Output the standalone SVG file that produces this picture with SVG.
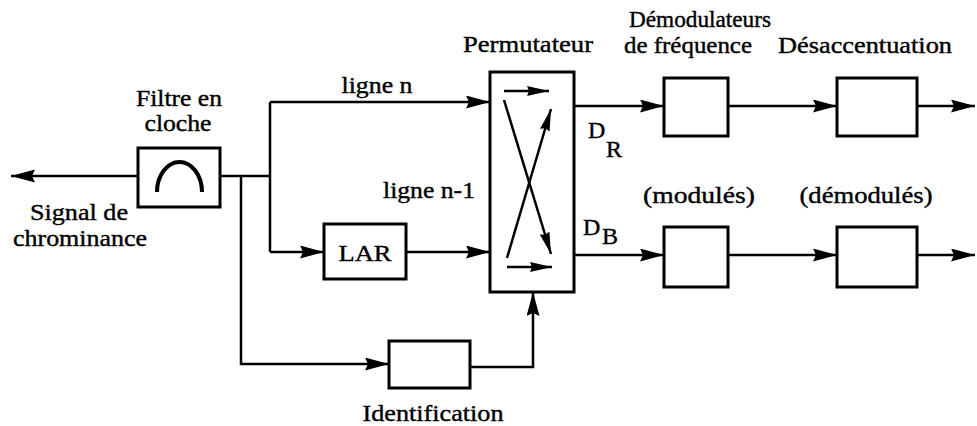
<svg xmlns="http://www.w3.org/2000/svg" width="977" height="426" viewBox="0 0 977 426">
<style>
.box{fill:none;stroke:#000;stroke-width:3}
.ln{fill:none;stroke:#000;stroke-width:2.5}
.t{font-family:"Liberation Serif","Times New Roman",serif;font-size:24px;fill:#000;stroke:#000;stroke-width:0.4}
</style>
<defs>
<marker id="ah" markerUnits="userSpaceOnUse" markerWidth="26" markerHeight="14" refX="24" refY="6.5" orient="auto">
<path d="M0,0 L24,6.5 L0,13 L3,6.5 z" fill="#000"/>
</marker>
<marker id="ahs" markerUnits="userSpaceOnUse" markerWidth="24" markerHeight="12" refX="22" refY="5" orient="auto">
<path d="M0,0 L22,5 L0,10 L2,5 z" fill="#000"/>
</marker>
</defs>
<rect width="977" height="426" fill="#fff"/>
<g id="connectors">
<line class="ln" x1="138" y1="176" x2="11" y2="176" marker-end="url(#ah)"/>
<polyline class="ln" points="220,176 270,176"/>
<polyline class="ln" points="270,102 270,252"/>
<line class="ln" x1="270" y1="102" x2="490" y2="102" marker-end="url(#ah)"/>
<line class="ln" x1="270" y1="252" x2="324" y2="252" marker-end="url(#ah)"/>
<line class="ln" x1="406" y1="252" x2="490" y2="252" marker-end="url(#ah)"/>
<polyline class="ln" points="241,176 241,364 389,364" marker-end="url(#ah)"/>
<polyline class="ln" points="470,367 533,367 533,292" marker-end="url(#ah)"/>
<line class="ln" x1="574" y1="106" x2="664" y2="106" marker-end="url(#ah)"/>
<line class="ln" x1="728" y1="106" x2="837" y2="106" marker-end="url(#ah)"/>
<line class="ln" x1="917" y1="106" x2="975" y2="106" marker-end="url(#ah)"/>
<line class="ln" x1="574" y1="255" x2="664" y2="255" marker-end="url(#ah)"/>
<line class="ln" x1="728" y1="255" x2="837" y2="255" marker-end="url(#ah)"/>
<line class="ln" x1="917" y1="255" x2="975" y2="255" marker-end="url(#ah)"/>
</g>
<g id="filtre">
<rect class="box" x="138" y="148" width="82" height="59"/>
<path d="M157,192 A22.5,30 0 0 1 202,192" fill="none" stroke="#000" stroke-width="4"/>
<text class="t" x="179" y="106" text-anchor="middle" textLength="86" lengthAdjust="spacingAndGlyphs">Filtre en</text>
<text class="t" x="178" y="131" text-anchor="middle" textLength="67" lengthAdjust="spacingAndGlyphs">cloche</text>
</g>
<g id="signal">
<text class="t" x="79" y="220" text-anchor="middle" textLength="98" lengthAdjust="spacingAndGlyphs">Signal de</text>
<text class="t" x="80" y="246" text-anchor="middle" textLength="134" lengthAdjust="spacingAndGlyphs">chrominance</text>
</g>
<g id="lignes">
<text class="t" x="377" y="93" text-anchor="middle" textLength="71" lengthAdjust="spacingAndGlyphs">ligne n</text>
<text class="t" x="429" y="198" text-anchor="middle" textLength="92" lengthAdjust="spacingAndGlyphs">ligne n-1</text>
</g>
<g id="lar">
<rect class="box" x="324" y="224" width="82" height="55"/>
<text class="t" x="365" y="261" text-anchor="middle" textLength="53" lengthAdjust="spacingAndGlyphs">LAR</text>
</g>
<g id="permutateur">
<rect class="box" x="490" y="72" width="84" height="220"/>
<text class="t" x="528" y="52" text-anchor="middle" textLength="130" lengthAdjust="spacingAndGlyphs">Permutateur</text>
<line class="ln" x1="504" y1="91" x2="549" y2="91" marker-end="url(#ahs)"/>
<line class="ln" x1="507" y1="267" x2="552" y2="267" marker-end="url(#ahs)"/>
<line class="ln" x1="504" y1="100" x2="551" y2="254" marker-end="url(#ahs)"/>
<line class="ln" x1="507" y1="258" x2="551" y2="109" marker-end="url(#ahs)"/>
</g>
<g id="identification">
<rect class="box" x="389" y="341" width="81" height="47"/>
<text class="t" x="433" y="421" text-anchor="middle" textLength="141" lengthAdjust="spacingAndGlyphs">Identification</text>
</g>
<g id="labels-d">
<text class="t" x="588" y="138">D</text>
<text class="t" x="606" y="157">R</text>
<text class="t" x="583" y="235">D</text>
<text class="t" x="602" y="244">B</text>
</g>
<g id="demod-r">
<rect class="box" x="664" y="78" width="64" height="58"/>
<text class="t" x="700" y="27" text-anchor="middle" textLength="142" lengthAdjust="spacingAndGlyphs">Démodulateurs</text>
<text class="t" x="688" y="53" text-anchor="middle" textLength="128" lengthAdjust="spacingAndGlyphs">de fréquence</text>
</g>
<g id="desacc-r">
<rect class="box" x="837" y="78" width="80" height="58"/>
<text class="t" x="865" y="53" text-anchor="middle" textLength="174" lengthAdjust="spacingAndGlyphs">Désaccentuation</text>
</g>
<g id="demod-b">
<rect class="box" x="664" y="227" width="64" height="60"/>
<text class="t" x="699" y="203" text-anchor="middle" textLength="112" lengthAdjust="spacingAndGlyphs">(modulés)</text>
</g>
<g id="desacc-b">
<rect class="box" x="837" y="227" width="80" height="60"/>
<text class="t" x="866" y="203" text-anchor="middle" textLength="133" lengthAdjust="spacingAndGlyphs">(démodulés)</text>
</g>
</svg>
